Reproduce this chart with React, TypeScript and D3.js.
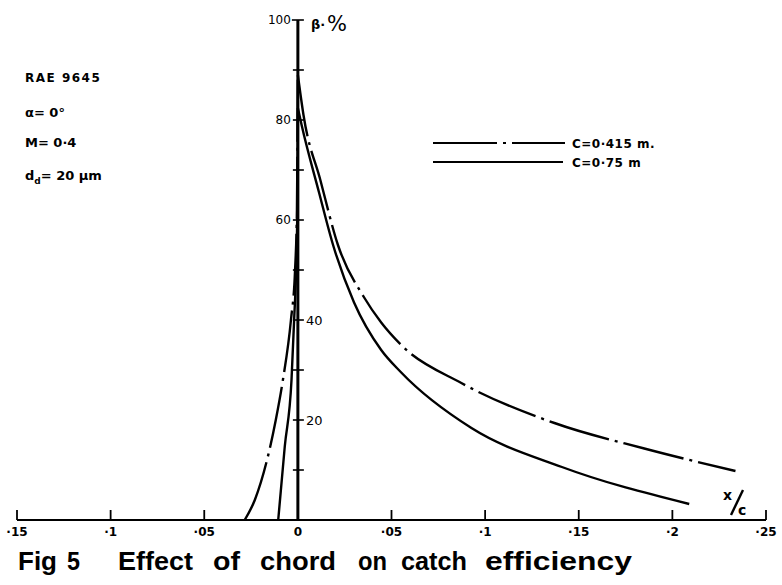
import React from "react";
import * as d3 from "d3";

const xTicks = [-0.15, -0.1, -0.05, 0, 0.05, 0.1, 0.15, 0.2, 0.25];
const xTickLabels = ["·15", "·1", "·05", "0", "·05", "·1", "·15", "·2", "·25"];
const yTicks = [10, 20, 30, 40, 50, 60, 70, 80, 90, 100];
const yLabelsLeft = [60, 80, 100];
const yLabelsRight = [20, 40];

// C = 0.415 m (dash-dot)
const c415Left: [number, number][] = [
  [-0.0284, 0], [-0.023, 4], [-0.0118, 20], [-0.008, 28], [-0.0037, 40], [-0.0015, 50], [-0.0005, 62], [0, 89],
];
const c415Right: [number, number][] = [
  [0, 89], [0.003, 81], [0.012, 68], [0.0214, 55], [0.0354, 44.5], [0.0445, 39.5], [0.0552, 35], [0.0873, 27.4], [0.137, 19.4], [0.185, 14.3], [0.2337, 9.8],
];
// C = 0.75 m (solid)
const c75Left: [number, number][] = [
  [-0.0105, 0], [-0.007, 14.7], [-0.0034, 28], [-0.002, 40], [-0.0008, 52], [-0.0002, 65], [0, 82.4],
];
const c75Right: [number, number][] = [
  [0, 82.4], [0.002, 79], [0.0113, 65.5], [0.0188, 55], [0.03, 43.5], [0.0445, 34], [0.0552, 29.5], [0.0927, 18.4], [0.141, 10.6], [0.209, 3.2],
];

const notes = ["RAE 9645", "α= 0°", "M= 0·4"];
const legendLabels = ["C=0·415 m.", "C=0·75 m"];
const titleWords: [string, number, number][] = [
  ["Fig", 18, 39], ["5", 67, 13], ["Effect", 118, 75], ["of", 213, 27], ["chord", 260, 76],
  ["on", 358, 29], ["catch", 401, 66], ["efficiency", 485, 147],
];

export default function App() {
  const W = 782, H = 585;
  const x = d3.scaleLinear().domain([-0.15, 0.25]).range([17, 766]);
  const y = d3.scaleLinear().domain([0, 100]).range([520, 20]);
  const line = d3.line<[number, number]>().x(d => x(d[0])).y(d => y(d[1])).curve(d3.curveMonotoneX);
  const x0 = x(0);
  const font = "'DejaVu Sans', sans-serif";
  const dash = "62 6 3 6";
  return (
    <svg width={W} height={H} style={{ position: "absolute", left: 0, top: 0, background: "#fff" }}>
      <rect width={W} height={H} fill="#fff" />
      {/* x axis */}
      <line x1={x(-0.15)} x2={x(0.25)} y1={y(0)} y2={y(0)} stroke="#000" strokeWidth={2.2} />
      {xTicks.map(t => t !== 0 && (
        <line key={t} x1={x(t)} x2={x(t)} y1={y(0)} y2={y(0) - 10} stroke="#000" strokeWidth={1.8} />
      ))}
      {xTicks.map((t, i) => (
        <text key={"xl" + t} x={x(t)} y={536} textAnchor="middle" fontFamily={font} fontWeight="bold" fontSize={12}>
          {xTickLabels[i]}
        </text>
      ))}
      {/* y axis */}
      <line x1={x0} x2={x0} y1={y(0)} y2={y(100)} stroke="#000" strokeWidth={3} />
      {yTicks.map(t => (
        <line key={"yt" + t} x1={x0 - (t === 100 ? 6 : 5)} x2={x0 + 6} y1={y(t)} y2={y(t)} stroke="#000" strokeWidth={1.6} />
      ))}
      {yLabelsLeft.map(t => (
        <text key={"yl" + t} x={x0 - 7} y={y(t) + 4} textAnchor="end" fontFamily={font} fontSize={12}>{t}</text>
      ))}
      {yLabelsRight.map(t => (
        <text key={"yr" + t} x={x0 + 8} y={y(t) + 5} textAnchor="start" fontFamily={font} fontSize={13}>{t}</text>
      ))}
      <text x={311} y={29} fontFamily={font} fontWeight="bold" fontSize={13}>β·</text>
      <text x={327} y={31} fontFamily={font} fontSize={21}>%</text>
      {/* x/c label */}
      <text x={723} y={500} fontFamily={font} fontWeight="bold" fontSize={14}>x</text>
      <line x1={731} y1={515} x2={743} y2={490} stroke="#000" strokeWidth={2.4} />
      <text x={738} y={515} fontFamily={font} fontWeight="bold" fontSize={14}>c</text>
      {/* curves */}
      <path d={(line(c415Left) || "") + (line(c415Right) || "")} fill="none" stroke="#000" strokeWidth={2.4} strokeDasharray={dash} />
      <path d={(line(c75Left) || "") + (line(c75Right) || "")} fill="none" stroke="#000" strokeWidth={2.4} />
      {/* legend */}
      <line x1={433} x2={565} y1={143} y2={143} stroke="#000" strokeWidth={2.2} strokeDasharray="64 6 3 6" />
      <line x1={433} x2={563} y1={162} y2={162} stroke="#000" strokeWidth={2.2} />
      <text x={572} y={148} fontFamily={font} fontWeight="bold" fontSize={12} letterSpacing={0.5}>{legendLabels[0]}</text>
      <text x={572} y={167} fontFamily={font} fontWeight="bold" fontSize={12} letterSpacing={0.5}>{legendLabels[1]}</text>
      {/* notes */}
      <text x={25} y={82} fontFamily={font} fontWeight="bold" fontSize={12} letterSpacing={1.5}>{notes[0]}</text>
      <text x={25} y={117} fontFamily={font} fontWeight="bold" fontSize={13}>{notes[1]}</text>
      <text x={25} y={147} fontFamily={font} fontWeight="bold" fontSize={13}>{notes[2]}</text>
      <text x={25} y={180} fontFamily={font} fontWeight="bold" fontSize={13}>
        d<tspan fontSize={9} dy={4}>d</tspan><tspan dy={-4}>= 20 μm</tspan>
      </text>
      {/* title */}
      {titleWords.map(([w, px, len]) => (
        <text key={w} x={px} y={570} fontFamily="'Liberation Sans', Arial, sans-serif" fontWeight="bold" fontSize={26}
          textLength={len} lengthAdjust="spacingAndGlyphs">{w}</text>
      ))}
    </svg>
  );
}
